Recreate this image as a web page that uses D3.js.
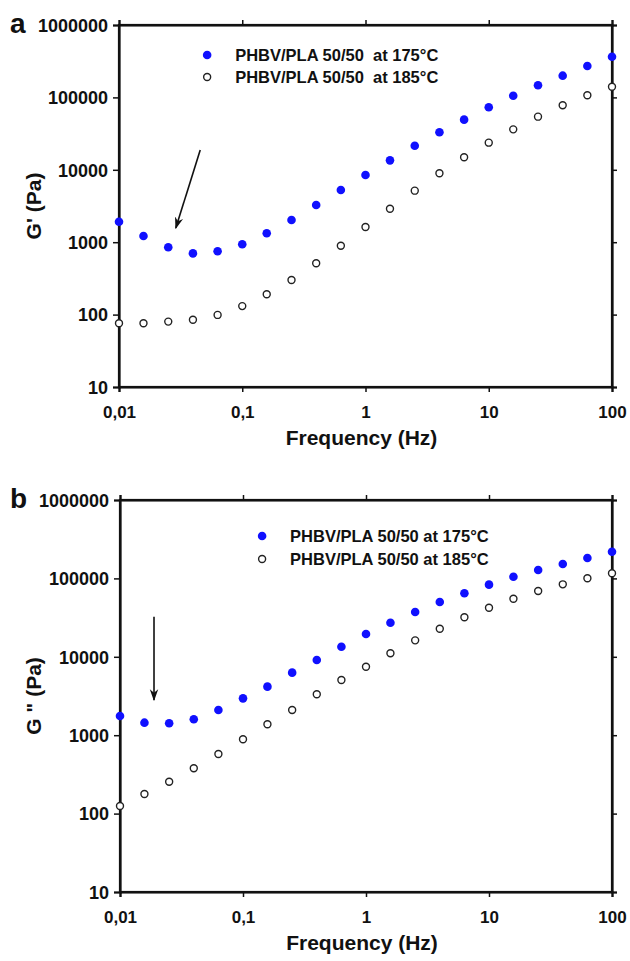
<!DOCTYPE html>
<html><head><meta charset="utf-8">
<script src="https://cdn.jsdelivr.net/npm/d3@7"></script>
<style>
body{margin:0;background:#fff;}
svg text{font-family:"Liberation Sans",Arial,sans-serif;font-weight:bold;fill:#111;}
</style></head>
<body><svg id="c" width="630" height="961"></svg>
<script>
const freq = [0.01,0.0158,0.0251,0.0398,0.0631,0.1,0.158,0.251,0.398,0.631,1,1.58,2.51,3.98,6.31,10,15.8,25.1,39.8,63.1,100];
const gp175 = [1920,1220,850,700,750,935,1330,2030,3270,5260,8480,13500,21500,33000,49300,73000,105600,147000,199600,271500,365000];
const gp185 = [76,76,80,85,99,131,191,300,511,895,1620,2900,5150,8940,14900,23700,36200,54200,77800,107000,140600];
const gpp175 = [1760,1445,1420,1595,2100,2950,4160,6280,9100,13460,19500,27200,37300,50000,64600,83200,105100,128000,152700,182000,219000];
const gpp185 = [125,178,255,378,575,886,1380,2100,3330,5060,7480,11100,16200,22800,31900,42300,55100,69100,84000,100300,116200];
const xTickVals = [0.01,0.1,1,10,100];
const xTickLabels = ["0,01","0,1","1","10","100"];
const yTickVals = [10,100,1000,10000,100000,1000000];
const yTickLabels = ["10","100","1000","10000","100000","1000000"];

const panels = [
  {letter:"a", ylab:"G' (Pa)", s1:gp175, s2:gp185, top:25, bottom:387, left:119, right:612,
   leg1:"PHBV/PLA 50/50  at 175°C", leg2:"PHBV/PLA 50/50  at 185°C", legX:0.0519, legY1:385000, legY2:191000,
   arrow:{x1:0.0456, y1:18750, x2:0.0289, y2:1570}},
  {letter:"b", ylab:"G \" (Pa)", s1:gpp175, s2:gpp185, top:500, bottom:892, left:120, right:612,
   leg1:"PHBV/PLA 50/50 at 175°C", leg2:"PHBV/PLA 50/50 at 185°C", legX:0.143, legY1:347000, legY2:176700,
   arrow:{x1:0.0189, y1:32400, x2:0.0189, y2:2812}}
];

const svg = d3.select("#c");
const defs = svg.append("defs");
defs.append("marker").attr("id","ah").attr("viewBox","0 0 10 10").attr("refX",9).attr("refY",5)
  .attr("markerWidth",12).attr("markerHeight",12).attr("markerUnits","userSpaceOnUse").attr("orient","auto")
  .append("path").attr("d","M0,1.5 L10,5 L0,8.5 L3,5 Z").attr("fill","#111");

panels.forEach(p => {
  const g = svg.append("g");
  const x = d3.scaleLog().domain([0.01,100]).range([p.left,p.right]);
  const y = d3.scaleLog().domain([10,1e6]).range([p.bottom,p.top]);

  const fx = d => xTickLabels[xTickVals.indexOf(d)];
  const fy = d => yTickLabels[yTickVals.indexOf(d)];

  const ax = g.append("g").attr("transform",`translate(0,${p.bottom})`)
    .call(d3.axisBottom(x).tickValues(xTickVals).tickFormat(fx).tickSizeOuter(0).tickSize(5).tickPadding(14));
  ax.selectAll("text").style("font-size","17px");
  const ay = g.append("g").attr("transform",`translate(${p.left},0)`)
    .call(d3.axisLeft(y).tickValues(yTickVals).tickFormat(fy).tickSizeOuter(0).tickSize(6).tickPadding(5));
  ay.selectAll("text").style("font-size","18px").attr("dy","0.35em");
  const at = g.append("g").attr("transform",`translate(0,${p.top})`)
    .call(d3.axisTop(x).tickValues(xTickVals).tickFormat("").tickSizeOuter(0).tickSize(5));
  const ar = g.append("g").attr("transform",`translate(${p.right},0)`)
    .call(d3.axisRight(y).tickValues(yTickVals).tickFormat("").tickSizeOuter(0).tickSize(5));
  [ax,ay,at,ar].forEach(a => {
    a.select(".domain").attr("stroke","#111").attr("stroke-width",2.2);
    a.selectAll(".tick line").attr("stroke","#111").attr("stroke-width",1.5);
    a.selectAll("text").attr("fill","#111");
  });
  g.append("rect").attr("x",p.left).attr("y",p.top).attr("width",p.right-p.left).attr("height",p.bottom-p.top)
    .attr("fill","none").attr("stroke","#111").attr("stroke-width",2.2);

  // titles
  g.append("text").attr("x",(p.left+p.right)/2 - 4).attr("y",p.bottom+58).attr("text-anchor","middle")
    .style("font-size","21px").text("Frequency (Hz)");
  g.append("text").attr("transform",`translate(41,${(p.top+p.bottom)/2}) rotate(-90)`).attr("text-anchor","middle")
    .style("font-size","21px").style("white-space","pre").text(p.ylab);
  g.append("text").attr("x",10).attr("y",p.top+8).style("font-size","28px").text(p.letter);

  // data
  g.append("g").selectAll("circle").data(freq.map((f,i)=>[f,p.s2[i]])).join("circle")
    .attr("cx",d=>x(d[0])).attr("cy",d=>y(d[1])).attr("r",3.5)
    .attr("fill","#fff").attr("stroke","#222").attr("stroke-width",1.4);
  g.append("g").selectAll("circle").data(freq.map((f,i)=>[f,p.s1[i]])).join("circle")
    .attr("cx",d=>x(d[0])).attr("cy",d=>y(d[1])).attr("r",4.3)
    .attr("fill","#1010ff");

  // legend
  g.append("circle").attr("cx",x(p.legX)).attr("cy",y(p.legY1)).attr("r",4.3).attr("fill","#1010ff");
  g.append("circle").attr("cx",x(p.legX)).attr("cy",y(p.legY2)).attr("r",3.5).attr("fill","#fff")
    .attr("stroke","#222").attr("stroke-width",1.4);
  g.append("text").attr("x",x(p.legX)+28).attr("y",y(p.legY1)).attr("dy","0.38em").style("font-size","16.5px")
    .style("white-space","pre").text(p.leg1);
  g.append("text").attr("x",x(p.legX)+28).attr("y",y(p.legY2)).attr("dy","0.38em").style("font-size","16.5px")
    .style("white-space","pre").text(p.leg2);

  // arrow
  g.append("line").attr("x1",x(p.arrow.x1)).attr("y1",y(p.arrow.y1)).attr("x2",x(p.arrow.x2)).attr("y2",y(p.arrow.y2))
    .attr("stroke","#111").attr("stroke-width",1.6).attr("marker-end","url(#ah)");
});
</script></body></html>
